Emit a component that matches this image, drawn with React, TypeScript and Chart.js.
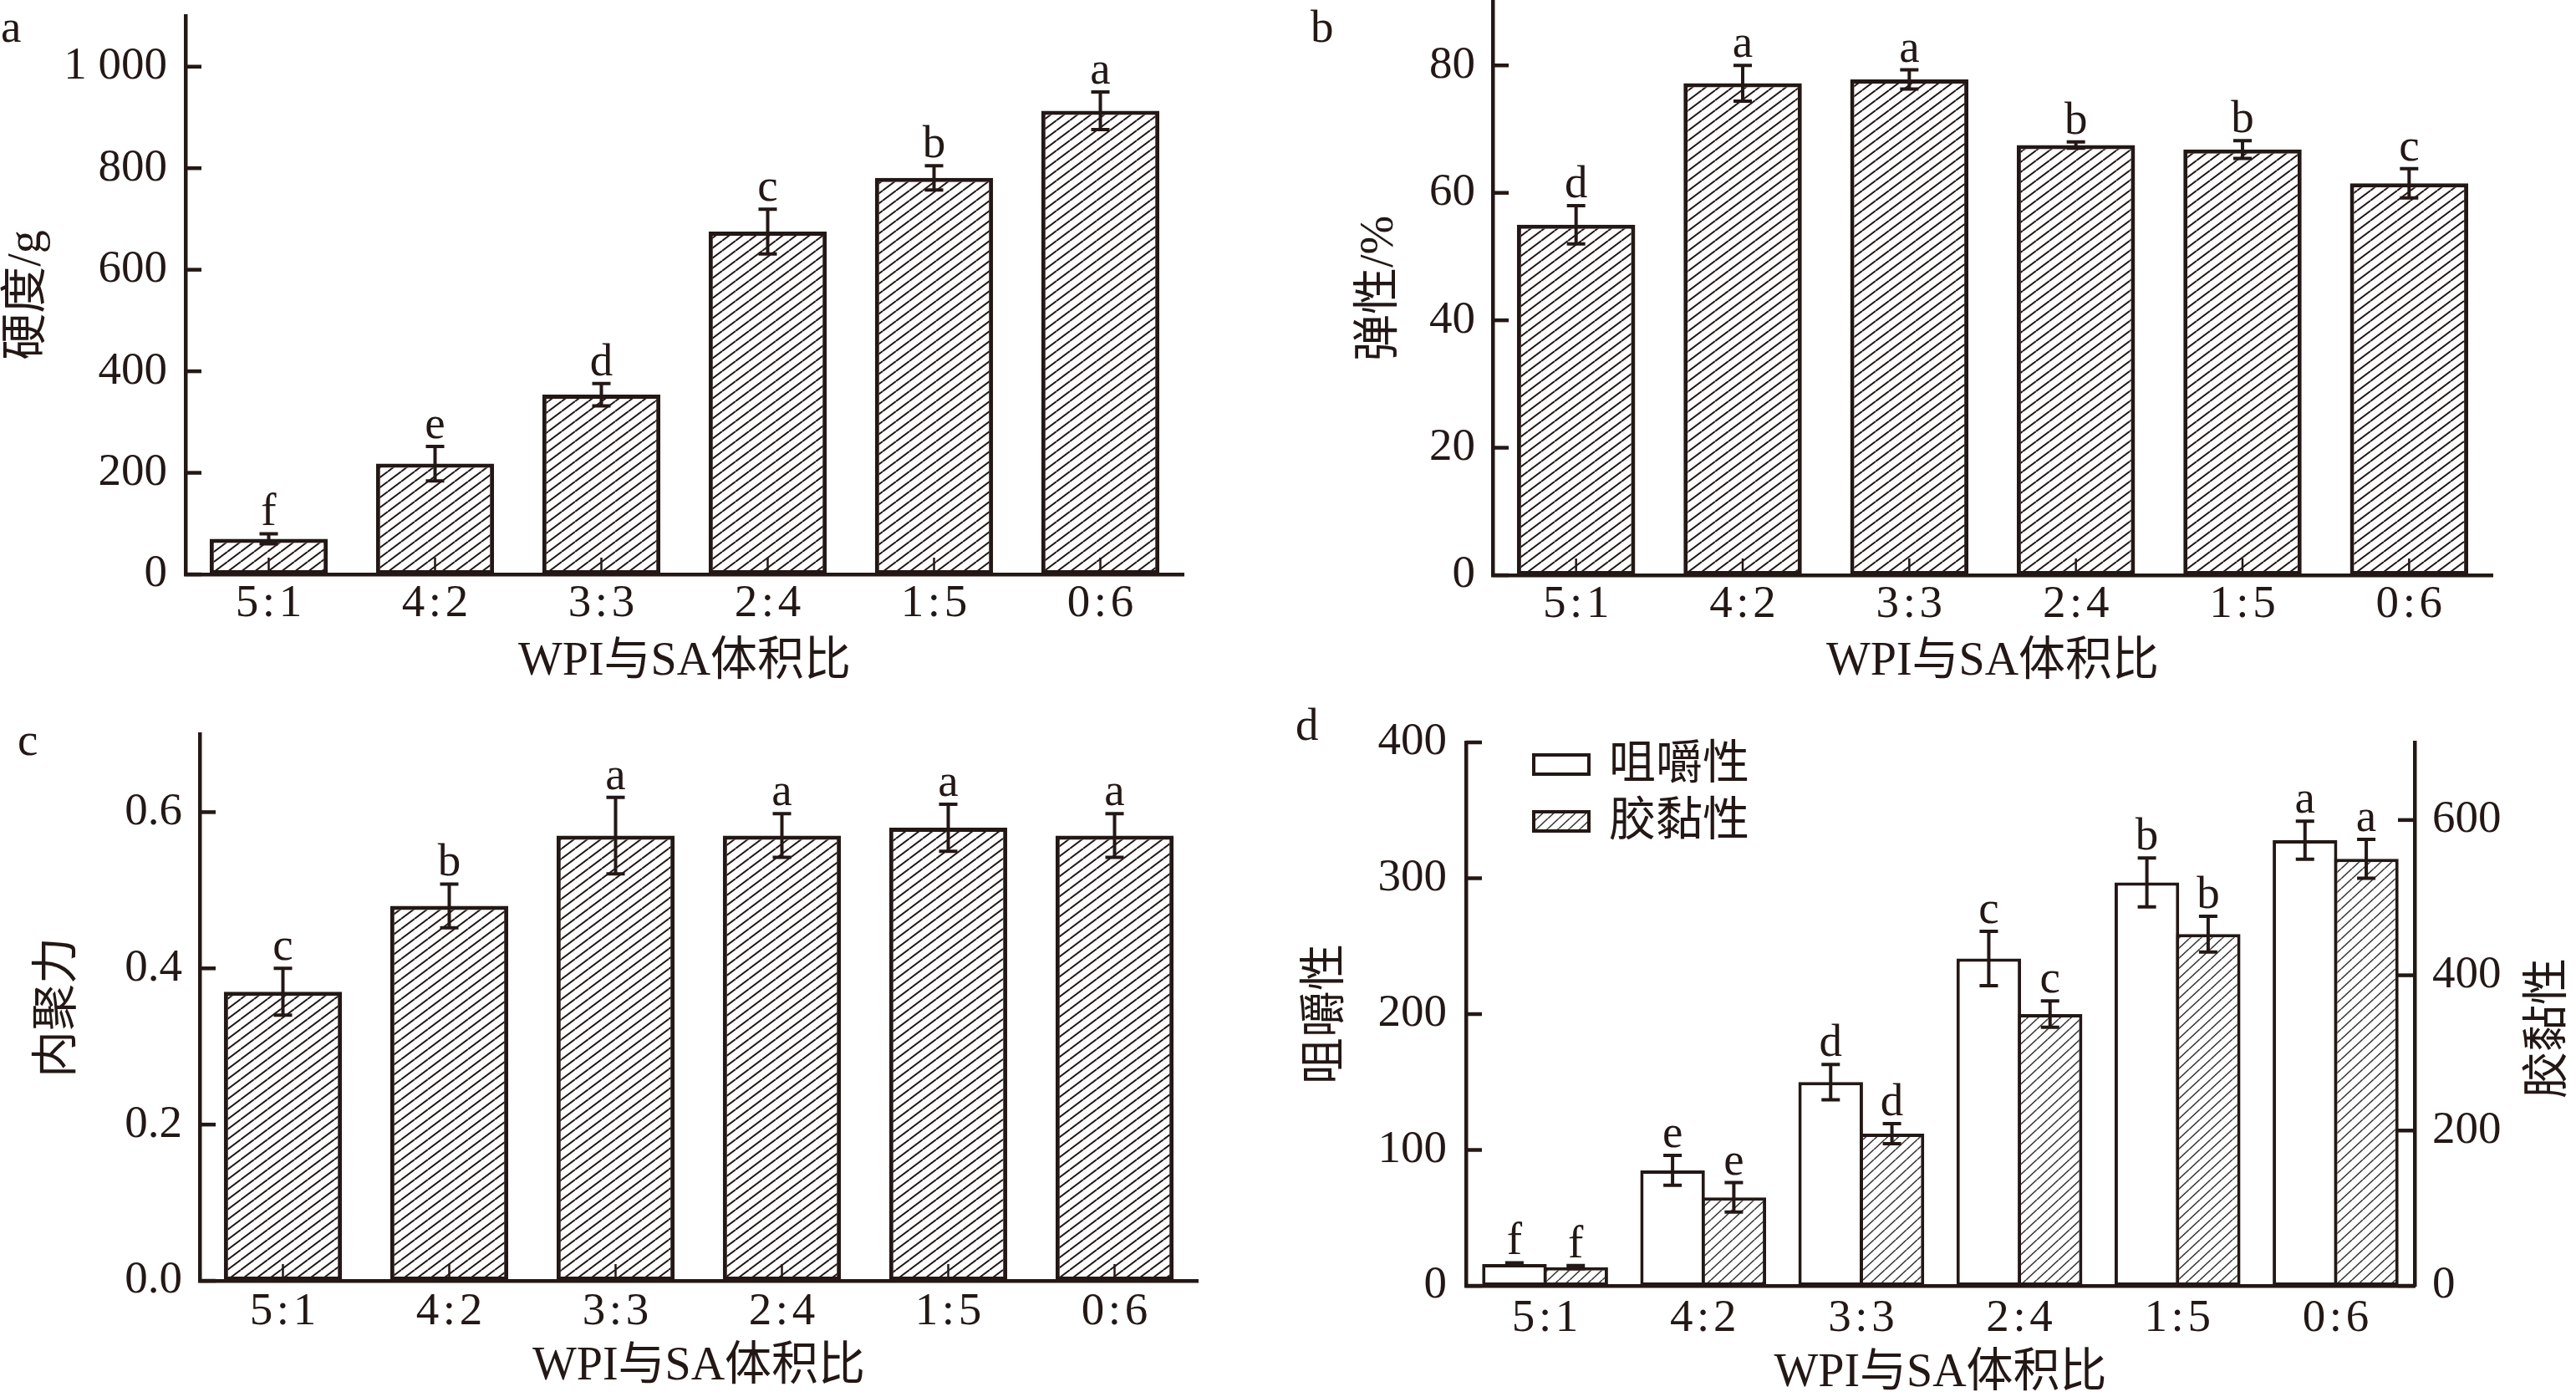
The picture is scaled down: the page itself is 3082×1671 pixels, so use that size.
import React, { useEffect, useRef } from 'react';
import { Chart, registerables } from 'chart.js';

Chart.register(...registerables);

// ---------- data ----------
const categories = ['5\u200A:\u200A1', '4\u200A:\u200A2', '3\u200A:\u200A3', '2\u200A:\u200A4', '1\u200A:\u200A5', '0\u200A:\u200A6'];
const xTitle = 'WPI与SA体积比';

const hardness = [70, 218, 354, 675, 781, 913];
const hardnessErr = [10, 34, 22, 44, 24, 37];
const hardnessSig = ['f', 'e', 'd', 'c', 'b', 'a'];

const springiness = [55, 77.2, 77.8, 67.5, 66.8, 61.5];
const springinessErr = [3, 2.8, 1.5, 0.5, 1.4, 2.3];
const springinessSig = ['d', 'a', 'a', 'b', 'b', 'c'];

const cohesiveness = [0.37, 0.48, 0.57, 0.57, 0.58, 0.57];
const cohesivenessErr = [0.03, 0.028, 0.049, 0.028, 0.03, 0.028];
const cohesivenessSig = ['c', 'b', 'a', 'a', 'a', 'a'];

const chewiness = [16, 85, 150, 241, 297, 328];
const chewinessErr = [1, 11, 13, 20, 18, 14];
const chewinessSig = ['f', 'e', 'd', 'c', 'b', 'a'];

const gumminess = [24, 114, 196, 350, 453, 550];
const gumminessErr = [2, 19, 13, 17, 23, 25];
const gumminessSig = ['f', 'e', 'd', 'c', 'b', 'a'];

const legendLabels = ['咀嚼性', '胶黏性'];

// ---------- style ----------
const INK = '#231815';
const SERIF = '"Liberation Serif", "Noto Sans CJK SC", serif';
const TICK_FONT = { family: SERIF, size: 55, lineHeight: 1 };
const TITLE_FONT = { family: SERIF, size: 56, lineHeight: 1 };

function makeHatch(w: number, h: number, lw: number, color: string) {
  const c = document.createElement('canvas');
  c.width = w;
  c.height = h;
  const g = c.getContext('2d')!;
  g.fillStyle = '#ffffff';
  g.fillRect(0, 0, w, h);
  g.strokeStyle = color;
  g.lineWidth = lw;
  for (const dy of [-h, 0, h]) {
    g.beginPath();
    g.moveTo(0, h + dy);
    g.lineTo(w, dy);
    g.stroke();
  }
  return g.createPattern(c, 'repeat')!;
}

type DecorOpts = {
  errors: number[][];
  sigs: string[][];
  xTicks: boolean;
  letter: string;
  letterX: number;
  letterY: number;
  extra?: (chart: any) => void;
};

function makeDecor(o: DecorOpts) {
  return {
    id: 'decor',
    afterDatasetsDraw(chart: any) {
      const ctx = chart.ctx as CanvasRenderingContext2D;
      const area = chart.chartArea;
      ctx.save();
      ctx.strokeStyle = INK;
      ctx.fillStyle = INK;
      ctx.lineCap = 'butt';
      // inward y ticks
      const yl = chart.scales.y;
      ctx.lineWidth = 4.5;
      for (const t of yl.ticks) {
        const py = yl.getPixelForValue(t.value);
        ctx.beginPath();
        ctx.moveTo(area.left, py);
        ctx.lineTo(area.left + 19, py);
        ctx.stroke();
      }
      const yr = chart.scales.y1;
      if (yr) {
        for (const t of yr.ticks) {
          const py = yr.getPixelForValue(t.value);
          ctx.beginPath();
          ctx.moveTo(area.right, py);
          ctx.lineTo(area.right - 20, py);
          ctx.stroke();
        }
      }
      // inward x ticks
      if (o.xTicks) {
        const xs = chart.scales.x;
        ctx.lineWidth = 2.5;
        for (let i = 0; i < xs.ticks.length; i++) {
          const px = xs.getPixelForTick(i);
          ctx.beginPath();
          ctx.moveTo(px, area.bottom);
          ctx.lineTo(px, area.bottom - 20);
          ctx.stroke();
        }
      }
      // error bars + significance letters
      ctx.font = '55px ' + SERIF;
      ctx.textAlign = 'center';
      ctx.textBaseline = 'alphabetic';
      chart.data.datasets.forEach((ds: any, di: number) => {
        const meta = chart.getDatasetMeta(di);
        const ys = chart.scales[meta.yAxisID];
        meta.data.forEach((bar: any, i: number) => {
          const v = ds.data[i];
          const e = o.errors[di][i];
          const top = ys.getPixelForValue(v + e);
          const bot = ys.getPixelForValue(v - e);
          const x = bar.x;
          ctx.lineWidth = 4;
          ctx.beginPath();
          ctx.moveTo(x, top);
          ctx.lineTo(x, bot);
          ctx.moveTo(x - 11, top);
          ctx.lineTo(x + 11, top);
          ctx.moveTo(x - 11, bot);
          ctx.lineTo(x + 11, bot);
          ctx.stroke();
          ctx.fillText(o.sigs[di][i], x, top - 10);
        });
      });
      // panel letter
      ctx.textAlign = 'left';
      ctx.fillText(o.letter, o.letterX, o.letterY);
      if (o.extra) o.extra(chart);
      ctx.restore();
    },
  };
}

function xScale(height: number, tickPad: number, titlePad: number) {
  return {
    type: 'category',
    grid: { display: false, drawTicks: false },
    border: { display: true, color: INK, width: 4.5 },
    ticks: { color: INK, font: TICK_FONT, padding: tickPad, autoSkip: false, maxRotation: 0, minRotation: 0 },
    title: { display: true, text: xTitle, color: INK, font: TITLE_FONT, padding: { top: 0, bottom: titlePad } },
    afterFit: (s: any) => {
      s.height = height;
      s.paddingLeft = 0;
      s.paddingRight = 0;
    },
  };
}

function yScale(o: {
  width: number; max: number; step: number; tickPad: number; title: string; titlePad: number;
  position?: string; fmt?: (v: number) => string; showTitle?: boolean;
}) {
  return {
    type: 'linear',
    position: o.position || 'left',
    min: 0,
    max: o.max,
    grid: { display: false, drawTicks: false },
    border: { display: true, color: INK, width: 4.5 },
    ticks: {
      color: INK,
      font: TICK_FONT,
      padding: o.tickPad,
      stepSize: o.step,
      includeBounds: false,
      callback: (v: any) => (o.fmt ? o.fmt(Number(v)) : String(v)),
    },
    title: { display: o.showTitle !== false, text: o.title, color: INK, font: TITLE_FONT, padding: { top: o.titlePad, bottom: 0 } },
    afterFit: (s: any) => {
      s.width = o.width;
      s.paddingTop = 0;
      s.paddingBottom = 0;
    },
  };
}

function singleConfig(p: {
  values: number[]; errs: number[]; sigs: string[];
  pad: any; yOpts: any; xH: number; xTickPad: number; xTitlePad: number;
  letter: string; letterX: number; letterY: number;
}) {
  const hatch = makeHatch(16, 12, 2, INK);
  return {
    type: 'bar',
    data: {
      labels: categories,
      datasets: [
        {
          data: p.values,
          backgroundColor: hatch,
          borderColor: INK,
          borderWidth: 5,
          borderSkipped: false,
          barPercentage: 0.71,
          categoryPercentage: 1,
          yAxisID: 'y',
        },
      ],
    },
    options: {
      animation: false,
      responsive: false,
      maintainAspectRatio: false,
      devicePixelRatio: 1,
      layout: { padding: p.pad },
      plugins: { legend: { display: false }, tooltip: { enabled: false } },
      scales: {
        x: xScale(p.xH, p.xTickPad, p.xTitlePad),
        y: yScale(p.yOpts),
      },
    },
    plugins: [
      makeDecor({ errors: [p.errs], sigs: [p.sigs], xTicks: true, letter: p.letter, letterX: p.letterX, letterY: p.letterY }),
    ],
  };
}

function configA() {
  return singleConfig({
    values: hardness, errs: hardnessErr, sigs: hardnessSig,
    pad: { left: 0, top: 19, right: 124, bottom: 0 },
    yOpts: { width: 222, max: 1100, step: 200, tickPad: 22, title: '硬度/g', titlePad: 5, fmt: (v: number) => (v === 1000 ? '1 000' : String(v)) },
    xH: 148, xTickPad: 8, xTitlePad: 15,
    letter: 'a', letterX: 1, letterY: 50,
  });
}

function configB() {
  return singleConfig({
    values: springiness, errs: springinessErr, sigs: springinessSig,
    pad: { left: 0, top: 2, right: 100, bottom: 0 },
    yOpts: { width: 246, max: 90, step: 20, tickPad: 21, title: '弹性/%', titlePad: 83 },
    xH: 147, xTickPad: 8, xTitlePad: 15,
    letter: 'b', letterX: 28, letterY: 50,
  });
}

function configC() {
  return singleConfig({
    values: cohesiveness, errs: cohesivenessErr, sigs: cohesivenessSig,
    pad: { left: 0, top: 43, right: 107, bottom: 0 },
    yOpts: { width: 239, max: 0.7, step: 0.2, tickPad: 21, title: '内聚力', titlePad: 42, fmt: (v: number) => v.toFixed(1) },
    xH: 139, xTickPad: 10, xTitlePad: 8,
    letter: 'c', letterX: 21, letterY: 68,
  });
}

function configD() {
  const hatch = makeHatch(13, 12, 1.6, '#3a3a3a');
  const extra = (chart: any) => {
    const ctx = chart.ctx as CanvasRenderingContext2D;
    // legend
    const boxes = [
      { y: 66, fill: '#ffffff' as any },
      { y: 134, fill: hatch as any },
    ];
    ctx.lineWidth = 4;
    ctx.strokeStyle = INK;
    ctx.font = '56px ' + SERIF;
    ctx.textAlign = 'left';
    ctx.textBaseline = 'middle';
    boxes.forEach((b, i) => {
      ctx.fillStyle = b.fill;
      ctx.fillRect(293, b.y, 70, 27);
      ctx.strokeRect(295, b.y + 2, 66, 23);
      ctx.fillStyle = INK;
      ctx.fillText(legendLabels[i], 385, b.y + 15);
    });
    // right axis title (rotated like the left one)
    ctx.save();
    ctx.translate(1510, 395);
    ctx.rotate(-Math.PI / 2);
    ctx.textAlign = 'center';
    ctx.textBaseline = 'middle';
    ctx.fillText(legendLabels[1], 0, 0);
    ctx.restore();
  };
  return {
    type: 'bar',
    data: {
      labels: categories,
      datasets: [
        {
          label: legendLabels[0],
          data: chewiness,
          backgroundColor: '#ffffff',
          borderColor: INK,
          borderWidth: 4,
          borderSkipped: false,
          barPercentage: 1.055,
          categoryPercentage: 0.775,
          yAxisID: 'y',
        },
        {
          label: legendLabels[1],
          data: gumminess,
          backgroundColor: hatch,
          borderColor: INK,
          borderWidth: 4,
          borderSkipped: false,
          barPercentage: 1.055,
          categoryPercentage: 0.775,
          yAxisID: 'y1',
        },
      ],
    },
    options: {
      animation: false,
      responsive: false,
      maintainAspectRatio: false,
      devicePixelRatio: 1,
      layout: { padding: { left: 0, top: 53, right: 0, bottom: 0 } },
      plugins: { legend: { display: false }, tooltip: { enabled: false } },
      scales: {
        x: xScale(133, 12, 0),
        y: yScale({ width: 214, max: 400, step: 100, tickPad: 23, title: legendLabels[0], titlePad: 19 }),
        y1: yScale({ width: 193, max: 700, step: 200, tickPad: 21, title: legendLabels[1], titlePad: 0, position: 'right', showTitle: false }),
      },
    },
    plugins: [
      makeDecor({
        errors: [chewinessErr, gumminessErr],
        sigs: [chewinessSig, gumminessSig],
        xTicks: false,
        letter: 'd', letterX: 10, letterY: 50,
        extra,
      }),
    ],
  };
}

function ChartPanel(props: { left: number; top: number; width: number; height: number; build: () => any }) {
  const ref = useRef<HTMLCanvasElement>(null);
  useEffect(() => {
    const chart = new Chart(ref.current as HTMLCanvasElement, props.build());
    return () => chart.destroy();
  }, []);
  return (
    <canvas
      ref={ref}
      width={props.width}
      height={props.height}
      style={{ position: 'absolute', left: props.left, top: props.top, width: props.width, height: props.height }}
    />
  );
}

export default function App() {
  return (
    <div style={{ position: 'absolute', left: 0, top: 0, width: 3082, height: 1671, background: '#ffffff', overflow: 'hidden' }}>
      <ChartPanel left={0} top={0} width={1540} height={835} build={configA} />
      <ChartPanel left={1540} top={0} width={1542} height={835} build={configB} />
      <ChartPanel left={0} top={835} width={1540} height={836} build={configC} />
      <ChartPanel left={1540} top={835} width={1542} height={836} build={configD} />
    </div>
  );
}
